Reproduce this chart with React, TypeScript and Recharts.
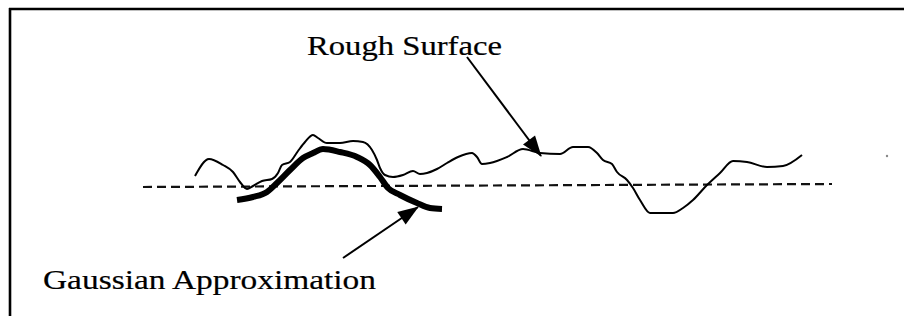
import React, { useLayoutEffect, useRef, useState } from "react";
import {
  ComposedChart,
  Line,
  ReferenceDot,
  ReferenceLine,
  Scatter,
  XAxis,
  YAxis,
} from "recharts";

// Coordinates are in the figure's own units (x across, y down), 904 x 316.
const roughSurface = [
  { x: 195, y: 176 }, { x: 209, y: 159 }, { x: 223, y: 165 }, { x: 233, y: 172 },
  { x: 240, y: 182 }, { x: 247, y: 189 }, { x: 253, y: 186 }, { x: 262, y: 181 },
  { x: 272, y: 179 }, { x: 278, y: 173 }, { x: 282, y: 165 }, { x: 290, y: 162 },
  { x: 298, y: 151 }, { x: 305, y: 142 }, { x: 313, y: 135 }, { x: 318, y: 138 },
  { x: 327, y: 143 }, { x: 340, y: 143 }, { x: 353, y: 141 }, { x: 363, y: 142 },
  { x: 372, y: 150 }, { x: 377, y: 160 }, { x: 380, y: 168 }, { x: 385, y: 175 },
  { x: 393, y: 177 }, { x: 403, y: 175 }, { x: 413, y: 171 }, { x: 420, y: 174 },
  { x: 427, y: 173 }, { x: 437, y: 169 }, { x: 447, y: 163 }, { x: 458, y: 157 },
  { x: 472, y: 153 }, { x: 477, y: 157 }, { x: 482, y: 164 }, { x: 490, y: 163 },
  { x: 507, y: 157 }, { x: 523, y: 149 }, { x: 540, y: 153 }, { x: 560, y: 154 },
  { x: 573, y: 147 }, { x: 588, y: 147 }, { x: 597, y: 153 }, { x: 603, y: 160 },
  { x: 612, y: 164 }, { x: 617, y: 172 }, { x: 627, y: 180 }, { x: 633, y: 188 },
  { x: 640, y: 200 }, { x: 650, y: 213 }, { x: 673, y: 213 }, { x: 683, y: 208 },
  { x: 693, y: 200 }, { x: 707, y: 185 }, { x: 720, y: 173 }, { x: 733, y: 161 },
  { x: 747, y: 162 }, { x: 767, y: 167 }, { x: 783, y: 166 }, { x: 802, y: 155 },
];

const gaussianApprox = [
  { x: 237, y: 200 }, { x: 253, y: 197 }, { x: 267, y: 192 }, { x: 277, y: 183 },
  { x: 290, y: 170 }, { x: 303, y: 158 }, { x: 313, y: 153 }, { x: 323, y: 149 },
  { x: 340, y: 152 }, { x: 357, y: 157 }, { x: 370, y: 165 }, { x: 380, y: 177 },
  { x: 388, y: 188 }, { x: 400, y: 195 }, { x: 417, y: 203 }, { x: 430, y: 208 },
  { x: 442, y: 209 },
];

const meanLine = [{ x: 143, y: 187 }, { x: 832, y: 184 }];
const roughArrow = [{ x: 467, y: 57 }, { x: 541, y: 156 }];
const gaussArrow = [{ x: 343, y: 258 }, { x: 418, y: 207 }];
const frameTop = [{ x: 9, y: 9 }, { x: 904, y: 9 }];
const frameLeft = [{ x: 10, y: 8 }, { x: 10, y: 316 }];
const specks = [{ x: 887, y: 156 }];

const labels = [
  { x: 307, y: 55, text: "Rough Surface", len: 195 },
  { x: 43, y: 289, text: "Gaussian Approximation", len: 333 },
];

type Pt = { x: number; y: number };

// Arrowhead drawn at the last point, pointing along the segment.
function arrowHead(points: Pt[]) {
  const a = points[0];
  const b = points[points.length - 1];
  const ang = (Math.atan2(b.y - a.y, b.x - a.x) * 180) / Math.PI;
  return (props: any) => {
    if (props.index !== points.length - 1) return <g key={props.index} />;
    return (
      <polygon
        key="head"
        points="1,0 -20,-7.5 -20,7.5"
        transform={`translate(${props.cx},${props.cy}) rotate(${ang})`}
        fill="#000"
      />
    );
  };
}

// The scan is stretched sideways, so the glyphs are widened to the measured length.
function WideText({ cx, cy, payload }: any) {
  const ref = useRef<SVGTextElement>(null);
  const [sx, setSx] = useState(1.18);
  useLayoutEffect(() => {
    if (ref.current) {
      const w = ref.current.getComputedTextLength();
      if (w > 0) setSx(payload.len / w);
    }
  }, [payload.len]);
  return (
    <text
      ref={ref}
      x={0}
      y={0}
      transform={`translate(${cx},${cy}) scale(${sx},1)`}
      fontFamily="'Liberation Serif', 'Times New Roman', serif"
      fontSize={28}
      fill="#000"
      stroke="#000"
      strokeWidth={0.2}
    >
      {payload.text}
    </text>
  );
}

export default function App() {
  return (
    <div style={{ position: "absolute", left: 0, top: 0, background: "#fff" }}>
      <ComposedChart
        width={904}
        height={316}
        margin={{ top: 0, right: 0, bottom: 0, left: 0 }}
      >
        <XAxis type="number" dataKey="x" domain={[0, 904]} hide allowDataOverflow />
        <YAxis type="number" dataKey="y" domain={[0, 316]} reversed hide allowDataOverflow />

        <ReferenceLine segment={frameTop} stroke="#000" strokeWidth={2.6} ifOverflow="visible" />
        <ReferenceLine segment={frameLeft} stroke="#000" strokeWidth={2.6} ifOverflow="visible" />
        <ReferenceLine
          segment={meanLine}
          stroke="#111"
          strokeWidth={2.2}
          strokeDasharray="9 5"
          ifOverflow="visible"
        />

        <Line
          data={roughSurface}
          dataKey="y"
          type="monotone"
          stroke="#000"
          strokeWidth={2}
          dot={false}
          activeDot={false}
          isAnimationActive={false}
        />
        <Line
          data={gaussianApprox}
          dataKey="y"
          type="monotone"
          stroke="#000"
          strokeWidth={6}
          dot={false}
          activeDot={false}
          isAnimationActive={false}
        />
        <Line
          data={roughArrow}
          dataKey="y"
          type="linear"
          stroke="#000"
          strokeWidth={2}
          dot={arrowHead(roughArrow)}
          activeDot={false}
          isAnimationActive={false}
        />
        <Line
          data={gaussArrow}
          dataKey="y"
          type="linear"
          stroke="#000"
          strokeWidth={2}
          dot={arrowHead(gaussArrow)}
          activeDot={false}
          isAnimationActive={false}
        />

        {specks.map((s, i) => (
          <ReferenceDot key={i} x={s.x} y={s.y} r={1.2} fill="#888" stroke="none" />
        ))}

        <Scatter
          data={labels}
          isAnimationActive={false}
          shape={(p: any) => <WideText {...p} />}
        />
      </ComposedChart>
    </div>
  );
}
